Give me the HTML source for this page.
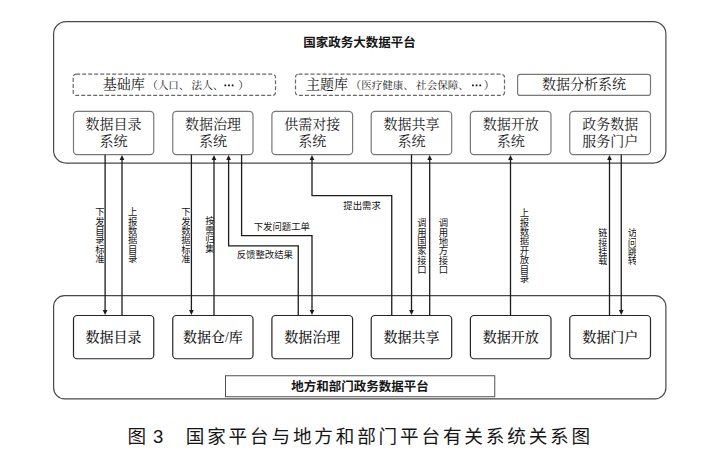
<!DOCTYPE html>
<html lang="zh-CN">
<head>
<meta charset="utf-8">
<title>图 3 国家平台与地方和部门平台有关系统关系图</title>
<style>
html,body{margin:0;padding:0;background:#fff}
body{width:712px;height:464px;overflow:hidden;position:relative;font-family:"Liberation Sans","Noto Sans CJK SC",sans-serif}
figure{margin:0;position:absolute;left:0;top:0;width:712px;height:464px;overflow:hidden}
.art{position:absolute;left:0;top:0;display:block}
/* Real text layer sits above the box/arrow artwork. */
.layer,.layer *{color:#161616}
.layer .e{color:transparent}
.layer{position:absolute;left:0;top:0;width:712px;height:464px;font-family:"Liberation Serif","Noto Serif CJK SC",serif}
.platform{position:absolute;margin:0}
.ttl{position:absolute;margin:0;font:bold 12.5px/16px "Liberation Sans","Noto Sans CJK SC",sans-serif;text-align:center;white-space:nowrap;overflow:hidden}
.lib,.sys{position:absolute;box-sizing:border-box;text-align:center;white-space:nowrap;overflow:hidden;font-size:14px;line-height:21px}
.lib small{font-size:10.55px;margin-left:2.5px}
.lib.l{text-align:left}
.lib i{display:inline-block;width:2.2px}
.sys{line-height:43px}
.sys.two{line-height:17px;padding-top:5px}
.sys.m{font-weight:500}
.fl{position:absolute;font:9.4px/10px "Liberation Sans","Noto Sans CJK SC",sans-serif;white-space:nowrap;overflow:hidden}
.fl.v{width:10px;font-size:9.38px;writing-mode:vertical-rl;text-orientation:upright;line-height:10px}
.cap{position:absolute;margin:0;font:18.6px/22px "Liberation Sans","Noto Sans CJK SC",sans-serif;letter-spacing:2.84px;white-space:nowrap;overflow:hidden}
</style>
</head>
<body>
<figure>
<svg class="art" width="712" height="464" viewBox="0 0 712 464" aria-hidden="true">
<g class="shapes"><rect x="53.6" y="21.55" width="612.3" height="141.55" rx="12.5" fill="none" stroke="#484848" stroke-width="1.2"/>
<rect x="53.6" y="295.6" width="612.3" height="103.2" rx="11" fill="none" stroke="#484848" stroke-width="1.2"/>
<rect x="73.2" y="74.2" width="202.3" height="21.2" rx="3" fill="none" stroke="#686868" stroke-width="1.2" stroke-dasharray="4 2"/>
<rect x="295.5" y="74.2" width="209" height="21.2" rx="3" fill="none" stroke="#686868" stroke-width="1.2" stroke-dasharray="4 2"/>
<rect x="517.6" y="74.3" width="132.9" height="21.1" rx="2.5" fill="none" stroke="#787878" stroke-width="1.2"/>
<rect x="73.5" y="111.4" width="80.25" height="43.25" rx="3.6" fill="none" stroke="#787878" stroke-width="1.2"/>
<rect x="73.5" y="315.5" width="80.25" height="43.25" rx="3.6" fill="none" stroke="#262626" stroke-width="1.2"/>
<rect x="172.75" y="111.4" width="80.25" height="43.25" rx="3.6" fill="none" stroke="#787878" stroke-width="1.2"/>
<rect x="172.75" y="315.5" width="80.25" height="43.25" rx="3.6" fill="none" stroke="#262626" stroke-width="1.2"/>
<rect x="271.9" y="111.4" width="80.7" height="43.25" rx="3.6" fill="none" stroke="#787878" stroke-width="1.2"/>
<rect x="271.9" y="315.5" width="80.7" height="43.25" rx="3.6" fill="none" stroke="#262626" stroke-width="1.2"/>
<rect x="371.2" y="111.4" width="80.5" height="43.25" rx="3.6" fill="none" stroke="#787878" stroke-width="1.2"/>
<rect x="371.2" y="315.5" width="80.5" height="43.25" rx="3.6" fill="none" stroke="#262626" stroke-width="1.2"/>
<rect x="470.4" y="111.4" width="80.6" height="43.25" rx="3.6" fill="none" stroke="#787878" stroke-width="1.2"/>
<rect x="470.4" y="315.5" width="80.6" height="43.25" rx="3.6" fill="none" stroke="#262626" stroke-width="1.2"/>
<rect x="569.75" y="111.4" width="80.75" height="43.25" rx="3.6" fill="none" stroke="#787878" stroke-width="1.2"/>
<rect x="569.75" y="315.5" width="80.75" height="43.25" rx="3.6" fill="none" stroke="#262626" stroke-width="1.2"/>
<rect x="225.5" y="375.75" width="269.25" height="21" rx="0" fill="none" stroke="#505050" stroke-width="1"/>
<path d="M105.1 315L102.75 310L107.45 310Z" fill="#1c1c1c"/>
<polyline points="105.1,154.65 105.1,310.5" fill="none" stroke="#1c1c1c" stroke-width="1.3"/>
<path d="M122 154.95L119.65 159.95L124.35 159.95Z" fill="#1c1c1c"/>
<polyline points="122,159.45 122,315.5" fill="none" stroke="#1c1c1c" stroke-width="1.3"/>
<path d="M191.4 315L189.05 310L193.75 310Z" fill="#1c1c1c"/>
<polyline points="191.4,154.65 191.4,310.5" fill="none" stroke="#1c1c1c" stroke-width="1.3"/>
<path d="M214 154.95L211.65 159.95L216.35 159.95Z" fill="#1c1c1c"/>
<polyline points="214,159.45 214,315.5" fill="none" stroke="#1c1c1c" stroke-width="1.3"/>
<path d="M228.6 154.95L226.25 159.95L230.95 159.95Z" fill="#1c1c1c"/>
<polyline points="228.6,159.45 228.6,245.85 298.25,245.85 298.25,315.5" fill="none" stroke="#1c1c1c" stroke-width="1.3"/>
<path d="M312 315L309.65 310L314.35 310Z" fill="#1c1c1c"/>
<polyline points="241.6,154.65 241.6,235.55 312,235.55 312,310.5" fill="none" stroke="#1c1c1c" stroke-width="1.3"/>
<path d="M312 154.95L309.65 159.95L314.35 159.95Z" fill="#1c1c1c"/>
<polyline points="312,159.45 312,195.7 391.75,195.7 391.75,315.5" fill="none" stroke="#1c1c1c" stroke-width="1.3"/>
<path d="M411.5 315L409.15 310L413.85 310Z" fill="#1c1c1c"/>
<polyline points="411.5,154.65 411.5,310.5" fill="none" stroke="#1c1c1c" stroke-width="1.3"/>
<path d="M429.7 154.95L427.35 159.95L432.05 159.95Z" fill="#1c1c1c"/>
<polyline points="429.7,159.45 429.7,315.5" fill="none" stroke="#1c1c1c" stroke-width="1.3"/>
<path d="M510.5 154.95L508.15 159.95L512.85 159.95Z" fill="#1c1c1c"/>
<polyline points="510.5,159.45 510.5,315.5" fill="none" stroke="#1c1c1c" stroke-width="1.3"/>
<path d="M609.5 154.95L607.15 159.95L611.85 159.95Z" fill="#1c1c1c"/>
<polyline points="609.5,159.45 609.5,315.5" fill="none" stroke="#1c1c1c" stroke-width="1.3"/>
<path d="M621.25 315L618.9 310L623.6 310Z" fill="#1c1c1c"/>
<polyline points="621.25,154.65 621.25,310.5" fill="none" stroke="#1c1c1c" stroke-width="1.3"/>
<rect x="224.45" y="84.55" width="1.80" height="1.80" rx="0.3" fill="#161616"/>
<rect x="228.10" y="84.55" width="1.80" height="1.80" rx="0.3" fill="#161616"/>
<rect x="231.75" y="84.55" width="1.80" height="1.80" rx="0.3" fill="#161616"/>
<rect x="472.05" y="84.55" width="1.80" height="1.80" rx="0.3" fill="#161616"/>
<rect x="475.70" y="84.55" width="1.80" height="1.80" rx="0.3" fill="#161616"/>
<rect x="479.35" y="84.55" width="1.80" height="1.80" rx="0.3" fill="#161616"/></g>
</svg>
<div class="layer">
<section class="platform" style="left:53px;top:21px;width:613px;height:142px">
<h2 class="ttl" style="left:0;top:14px;width:613px">国家政务大数据平台</h2>
<div class="lib l" style="left:20.2px;top:53.2px;width:202.3px;height:21.2px;padding-left:29.5px">基础库<small>（人口、<i></i>法人、<i></i><i></i><span class="e">…</span>）</small></div>
<div class="lib l" style="left:242.5px;top:53.2px;width:209.0px;height:21.2px;padding-left:10.6px">主题库<small>（医疗健康、<i></i>社会保障、<i></i><i></i><span class="e">…</span>）</small></div>
<div class="lib" style="left:464.6px;top:53.2px;width:132.9px;height:21.2px">数据分析系统</div>
<div class="sys two" style="left:20.5px;top:90.4px;width:80.2px;height:43.2px">数据目录<br>系统</div>
<div class="sys two" style="left:119.8px;top:90.4px;width:80.2px;height:43.2px">数据治理<br>系统</div>
<div class="sys two" style="left:218.9px;top:90.4px;width:80.7px;height:43.2px">供需对接<br>系统</div>
<div class="sys two" style="left:318.2px;top:90.4px;width:80.5px;height:43.2px">数据共享<br>系统</div>
<div class="sys two" style="left:417.4px;top:90.4px;width:80.6px;height:43.2px">数据开放<br>系统</div>
<div class="sys two" style="left:516.8px;top:90.4px;width:80.8px;height:43.2px">政务数据<br>服务门户</div>
</section>
<section class="flows">
<span class="fl v" style="left:94.0px;top:207.0px;height:56px">下发目录标准</span>
<span class="fl v" style="left:126.6px;top:207.0px;height:56px">上报数据目录</span>
<span class="fl v" style="left:180.0px;top:207.0px;height:56px">下发数据标准</span>
<span class="fl v" style="left:204.0px;top:216.3px;height:38px">按需归集</span>
<span class="fl v" style="left:415.9px;top:217.5px;height:56px">调用国家接口</span>
<span class="fl v" style="left:437.5px;top:217.5px;height:56px">调用地方接口</span>
<span class="fl v" style="left:518.5px;top:208.0px;height:75px">上报数据开放目录</span>
<span class="fl v" style="left:596.9px;top:227.5px;height:38px">链接挂载</span>
<span class="fl v" style="left:626.4px;top:227.5px;height:38px">访问跳转</span>
<span class="fl" style="left:253.7px;top:221.5px;width:56px">下发问题工单</span>
<span class="fl" style="left:236.7px;top:250.2px;width:57px">反馈整改结果</span>
<span class="fl" style="left:343.3px;top:200.6px;width:38px">提出需求</span>
</section>
<section class="platform" style="left:53px;top:295px;width:613px;height:104px">
<div class="sys m" style="left:20.5px;top:20.5px;width:80.2px;height:43.2px">数据目录</div>
<div class="sys m" style="left:119.8px;top:20.5px;width:80.2px;height:43.2px">数据仓/库</div>
<div class="sys m" style="left:218.9px;top:20.5px;width:80.7px;height:43.2px">数据治理</div>
<div class="sys m" style="left:318.2px;top:20.5px;width:80.5px;height:43.2px">数据共享</div>
<div class="sys m" style="left:417.4px;top:20.5px;width:80.6px;height:43.2px">数据开放</div>
<div class="sys m" style="left:516.8px;top:20.5px;width:80.8px;height:43.2px">数据门户</div>
<h2 class="ttl" style="left:172px;top:84px;width:270px">地方和部门政务数据平台</h2>
</section>
<figcaption class="cap" style="left:127.6px;top:426px;width:470px">图<span style="margin-left:4px">3</span><span style="margin-left:19.5px">国家平台与地方和部门平台有关系统关系图</span></figcaption>
</div>
</figure>
</body>
</html>
